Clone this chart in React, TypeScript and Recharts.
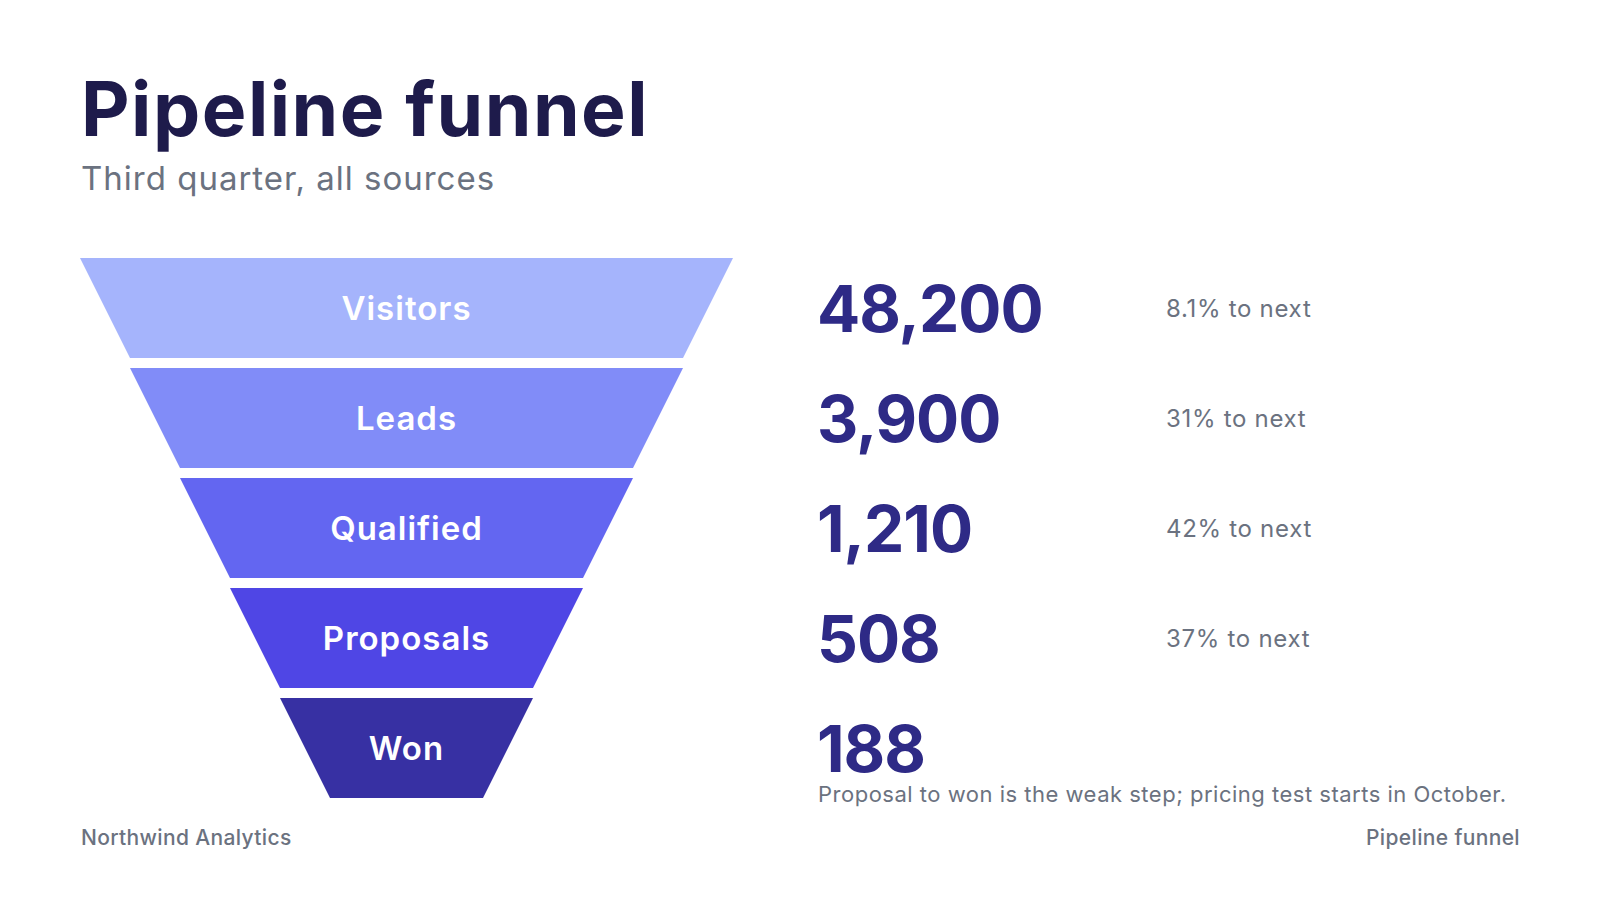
import React from 'react';
import { FunnelChart, Funnel } from 'recharts';

const stages = ['Visitors', 'Leads', 'Qualified', 'Proposals', 'Won'];
const counts = [48200, 3900, 1210, 508, 188];
const conversionLabels = ['8.1% to next', '31% to next', '42% to next', '37% to next', ''];
const stageColors = ['#a5b4fc', '#818cf8', '#6366f1', '#4f46e5', '#3730a3'];

const title = 'Pipeline funnel';
const subtitle = 'Third quarter, all sources';
const note = 'Proposal to won is the weak step; pricing test starts in October.';
const source = 'Northwind Analytics';
const footerRight = 'Pipeline funnel';

const tableData = stages.map((name, i) => ({
  name,
  value: counts[i],
  conversion: conversionLabels[i],
  fill: stageColors[i],
}));

const FONT = 'Inter, "DejaVu Sans", sans-serif';
const TOP_WIDTH = 653;
const STEP_INSET = 50;
const GAP = 10;
const NUMBER_X = 817;
const CONV_X = 1166;

const fmt = (v: number) => v.toLocaleString('en-US');

const StageShape = (props: any) => {
  const p = props.payload && props.payload.name ? props.payload : props;
  const idx = stages.indexOf(p.name);
  const cx = props.x + props.upperWidth / 2;
  const y = props.y;
  const h = props.height - GAP;
  const up = TOP_WIDTH - idx * STEP_INSET * 2;
  const lo = up - STEP_INSET * 2;
  const d = `M${cx - up / 2},${y} L${cx + up / 2},${y} L${cx + lo / 2},${y + h} L${cx - lo / 2},${y + h} Z`;
  const cy = y + h / 2;
  return (
    <g>
      <path d={d} fill={stageColors[idx]} />
      <text x={cx} y={cy} textAnchor="middle" dominantBaseline="central" fill="#ffffff" fontFamily={FONT} fontWeight={600} fontSize={33} letterSpacing={1}>
        {p.name}
      </text>
      <text x={NUMBER_X} y={cy} dominantBaseline="central" fill="#2e2a86" fontFamily={FONT} fontWeight={700} fontSize={64} letterSpacing={-1}>
        {fmt(p.value)}
      </text>
      {p.conversion ? (
        <text x={CONV_X} y={cy} dominantBaseline="central" fill="#6b7280" fontFamily={FONT} fontWeight={400} fontSize={24} letterSpacing={0.7}>
          {p.conversion}
        </text>
      ) : null}
    </g>
  );
};

export default function App() {
  return (
    <div style={{ position: 'relative', width: 1600, height: 900, background: '#ffffff', fontFamily: FONT }}>
      <style>{'body{margin:0;background:#ffffff}'}</style>
      <div style={{ position: 'absolute', left: 0, top: 0 }}>
        <FunnelChart width={1600} height={900} margin={{ top: 258, bottom: 92, left: 80, right: 867 }}>
          <Funnel
            dataKey="value"
            nameKey="name"
            data={tableData}
            isAnimationActive={false}
            lastShapeType="rectangle"
            shape={StageShape}
          />
        </FunnelChart>
      </div>
      <svg width={1600} height={900} style={{ position: 'absolute', left: 0, top: 0, pointerEvents: 'none' }}>
        <text x={81} y={136} fill="#1e1b4b" fontFamily={FONT} fontWeight={700} fontSize={75} letterSpacing={1.5}>
          {title}
        </text>
        <text x={81} y={190} fill="#6b7280" fontFamily={FONT} fontWeight={400} fontSize={33} letterSpacing={1}>
          {subtitle}
        </text>
        <text x={818} y={802} fill="#6b7280" fontFamily={FONT} fontWeight={400} fontSize={22} letterSpacing={0.5}>
          {note}
        </text>
        <text x={81} y={845} fill="#6b7280" fontFamily={FONT} fontWeight={500} fontSize={21} letterSpacing={0.35}>
          {source}
        </text>
        <text x={1520} y={845} textAnchor="end" fill="#6b7280" fontFamily={FONT} fontWeight={500} fontSize={21} letterSpacing={0.35}>
          {footerRight}
        </text>
      </svg>
    </div>
  );
}
